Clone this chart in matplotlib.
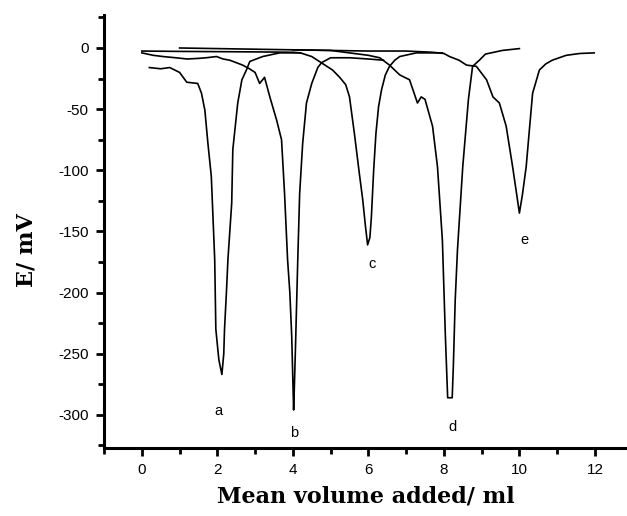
import numpy as np
import matplotlib
matplotlib.use("Agg")
import matplotlib.pyplot as plt
from matplotlib.ticker import MultipleLocator

# titration curves (volume in ml, E in mV)
xa = [0.2, 0.5, 0.74, 1.0, 1.19, 1.48, 1.58, 1.67, 1.75, 1.84, 1.88, 1.93, 1.96,
      2.04, 2.12, 2.17, 2.19, 2.24, 2.28, 2.38, 2.41, 2.54, 2.65, 2.77, 2.86,
      3.2, 3.65, 4.2]
ya = [-16, -17, -16, -20, -28, -29, -37, -51, -78, -105, -135, -173, -230,
      -255, -267, -250, -230, -200, -173, -127, -83, -45, -26, -18, -11,
      -7, -4, -4]

xb = [0.0, 0.3, 0.56, 0.9, 1.2, 1.5, 1.7, 1.98, 2.15, 2.33, 2.5, 2.67, 2.85,
      3.0, 3.12, 3.25, 3.39, 3.57, 3.7, 3.78, 3.86, 3.92, 3.97, 4.02, 4.04,
      4.07, 4.13, 4.18, 4.26, 4.36, 4.5, 4.66, 4.76, 5.0, 5.5, 6.0, 6.4]
yb = [-4, -6, -7, -8, -9, -8.5, -8, -7, -9, -10, -12, -14, -17,
      -20, -29, -24, -40, -59, -75, -119, -173, -200, -236, -296, -277,
      -244, -173, -119, -78, -45, -29, -16, -12, -8, -8, -9, -10]

xc = [0.0, 1.0, 2.0, 3.0, 4.0, 4.2, 4.5, 4.7, 4.85, 5.05, 5.24, 5.4, 5.5,
      5.63, 5.75, 5.85, 5.92, 5.98, 6.04, 6.08, 6.14, 6.2, 6.27, 6.35, 6.45,
      6.56, 6.7, 6.83, 7.27, 7.96]
yc = [-2.5, -2.8, -3, -3.2, -3.5, -4, -7, -11, -14, -18, -24, -30, -40,
      -70, -100, -124, -145, -161, -155, -138, -100, -70, -48, -34, -22,
      -15, -10, -7, -4, -4]

xd = [1.0, 2.0, 3.0, 4.0, 5.0, 5.5, 6.0, 6.3, 6.56, 6.83, 7.09, 7.3, 7.4,
      7.5, 7.7, 7.83, 7.96, 8.04, 8.1, 8.22, 8.25, 8.3, 8.36, 8.5, 8.65,
      8.76, 8.94, 9.1, 9.55, 10.0]
yd = [0, -0.5, -1, -1.5, -2, -4, -6, -8, -14, -22, -26, -45, -40,
      -42, -64, -97, -157, -236, -286, -286, -261, -206, -165, -97, -42,
      -15, -10, -5, -2, -0.5]

xe = [4.0, 5.0, 6.0, 7.0, 7.7, 8.0, 8.15, 8.4, 8.6, 8.86, 9.13, 9.3, 9.47,
      9.65, 9.82, 9.92, 10.0, 10.08, 10.18, 10.27, 10.35, 10.53, 10.7,
      10.87, 11.24, 11.6, 11.98]
ye = [-1.5, -2, -2.5, -2.5, -3.5, -4.5, -7, -10, -14, -15, -26, -40, -45,
      -64, -97, -118, -135, -120, -97, -65, -37, -18, -13,
      -10, -6, -4.5, -4]

labels = ['a', 'b', 'c', 'd', 'e']
label_x = [2.04, 4.04, 6.11, 8.22, 10.13]
label_y = [-297, -315, -177, -310, -157]

fig = plt.figure(figsize=(6.27, 5.16), dpi=100)
ax = fig.add_axes([0.166, 0.132, 0.834, 0.839])

for xs, ys in [(xa, ya), (xb, yb), (xc, yc), (xd, yd), (xe, ye)]:
    ax.plot(xs, ys, color='black', lw=1.2)

for lab, lx, ly in zip(labels, label_x, label_y):
    ax.text(lx, ly, lab, ha='center', va='center', fontsize=10.5,
            family='Liberation Sans')

ax.set_xlim(-1, 12.85)
ax.set_ylim(-327, 27)
ax.xaxis.set_major_locator(MultipleLocator(2))
ax.xaxis.set_minor_locator(MultipleLocator(1))
ax.yaxis.set_major_locator(MultipleLocator(50))
ax.yaxis.set_minor_locator(MultipleLocator(25))

ax.spines['top'].set_visible(False)
ax.spines['right'].set_visible(False)
ax.spines['left'].set_linewidth(2.2)
ax.spines['bottom'].set_linewidth(2.2)
ax.tick_params(which='major', direction='out', length=6, width=2,
               labelsize=11, pad=5)
ax.tick_params(which='minor', direction='out', length=4, width=2)

ax.set_yticks([0, -50, -100, -150, -200, -250, -300])
ax.set_yticklabels(['0', '-50', '-100', '-150', '-200', '-250', '-300'])
for t in ax.get_xticklabels() + ax.get_yticklabels():
    t.set_family('Liberation Sans')

ax.set_xlabel('Mean volume added/ ml', family='DejaVu Serif',
              fontweight='bold', fontsize=16, labelpad=6)
ax.set_ylabel('E/ mV', family='DejaVu Serif', fontweight='bold',
              fontsize=16)
ax.yaxis.set_label_coords(-0.128, 0.457)

fig.savefig('out.png', dpi=100)
